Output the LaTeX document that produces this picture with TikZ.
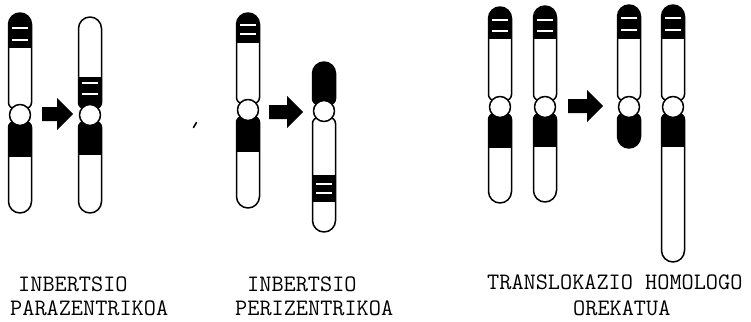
\documentclass[tikz,border=0pt]{standalone}
\usepackage{fontspec}

% ---- chromosome geometry (units are pixel-sized points, rows counted downwards) ----
\def\hw{11.5}   % half width of a chromosome arm
\def\cenr{10.5} % centromere radius
\def\neck{6}    % corner radius where an arm meets the centromere

% closed outline of one arm: centre x, top row, bottom row, top radius, bottom radius
\newcommand{\armpath}[5]{%
  ({#1-\hw},{-(#3)+(#5)}) -- ({#1-\hw},{-(#2)-(#4)})
  arc[start angle=180, end angle=90, radius=#4] -- ({#1+\hw-(#4)},{-(#2)})
  arc[start angle=90, end angle=0, radius=#4] -- ({#1+\hw},{-(#3)+(#5)})
  arc[start angle=0, end angle=-90, radius=#5] -- ({#1-\hw+(#5)},{-(#3)})
  arc[start angle=-90, end angle=-180, radius=#5] -- cycle}

% whole chromosome: centre x, top row, centromere row, bottom row, banding
\newcommand{\chrom}[5]{%
  \begin{scope}
    \clip \armpath{#1}{#2}{#3-\cenr+4}{\hw}{\neck}
          \armpath{#1}{#3+\cenr-4}{#4}{\neck}{\hw};
    #5
  \end{scope}
  \draw[chromline] \armpath{#1}{#2}{#3-\cenr+4}{\hw}{\neck};
  \draw[chromline] \armpath{#1}{#3+\cenr-4}{#4}{\neck}{\hw};
  \draw[chromline, fill=white] (#1,-#3) circle[radius=\cenr];
}
% dark block between two rows, and a pale stripe inside a dark block
\newcommand{\blk}[3]{\fill[black] ({#1-\hw-2},{-(#2)}) rectangle ({#1+\hw+2},{-(#3)});}
\newcommand{\stripe}[2]{\draw[stripeline] ({#1-8},{-(#2)}) -- ({#1+8},{-(#2)});}

% fat block arrow: tail x, tip x, row
\newcommand{\fatarrow}[3]{%
  \fill ({#1},{-(#3)+7}) -- ({#2-16},{-(#3)+7}) -- ({#2-16},{-(#3)+16})
     -- ({#2},{-(#3)}) -- ({#2-16},{-(#3)-16}) -- ({#2-16},{-(#3)-7})
     -- ({#1},{-(#3)-7}) -- cycle;}

\begin{document}
\begin{tikzpicture}[
  x=1pt, y=1pt,
  chromline/.style={draw=black, line width=1.5pt, line join=round},
  stripeline/.style={draw=white, line width=1.6pt},
  caption/.style={font=\ttfamily\fontsize{23.6}{28}\selectfont, inner sep=0pt, anchor=base west},
]
\useasboundingbox (0,0) rectangle (751,-321);

% =====================================================
% PARACENTRIC INVERSION
% =====================================================
\chrom{20}{13}{115}{213}{\blk{20}{0}{48}\stripe{20}{28}\stripe{20}{40}\blk{20}{115}{157}}
\fatarrow{42}{73}{114}
\chrom{90}{17}{115}{213}{\blk{90}{77}{115}\stripe{90}{83}\stripe{90}{94}\blk{90}{115}{155}}

% =====================================================
% PERICENTRIC INVERSION
% =====================================================
\draw[line width=1.6pt, line cap=round] (193.5,-127.5) -- (196.5,-122.5);
\chrom{248}{13}{110}{208}{\blk{248}{0}{43}\stripe{248}{25}\stripe{248}{34}\blk{248}{110}{152}}
\fatarrow{269}{303}{112}
\chrom{324}{62}{111}{232}{\blk{324}{50}{111}\blk{324}{175}{202}\stripe{324}{184}\stripe{324}{193}}

% =====================================================
% BALANCED HOMOLOGOUS TRANSLOCATION
% =====================================================
\chrom{500}{7}{107}{203}{\blk{500}{0}{39}\stripe{500}{20}\stripe{500}{31}\blk{500}{107}{148}}
\chrom{545}{6}{107}{202}{\blk{545}{0}{39}\stripe{545}{20}\stripe{545}{31}\blk{545}{107}{147}}
\fatarrow{568}{603}{106}
\chrom{629}{5}{107}{148}{\blk{629}{0}{39}\stripe{629}{18}\stripe{629}{30}\blk{629}{107}{160}}
\chrom{673}{5}{107}{262}{\blk{673}{0}{39}\stripe{673}{18}\stripe{673}{30}\blk{673}{107}{147}}

% ---- captions ----
\node[caption] (paraone) at (18,-291) {INBERTSIO};
\node[caption] (paratwo) at (10,-315) {PARAZENTRIKOA};
\node[caption] (perione) at (247,-291) {INBERTSIO};
\node[caption] (peritwo) at (235,-315) {PERIZENTRIKOA};
\node[caption] (transone) at (487,-289) {TRANSLOKAZIO HOMOLOGO};
\node[caption] (transtwo) at (573,-315) {OREKATUA};

\end{tikzpicture}
\end{document}
